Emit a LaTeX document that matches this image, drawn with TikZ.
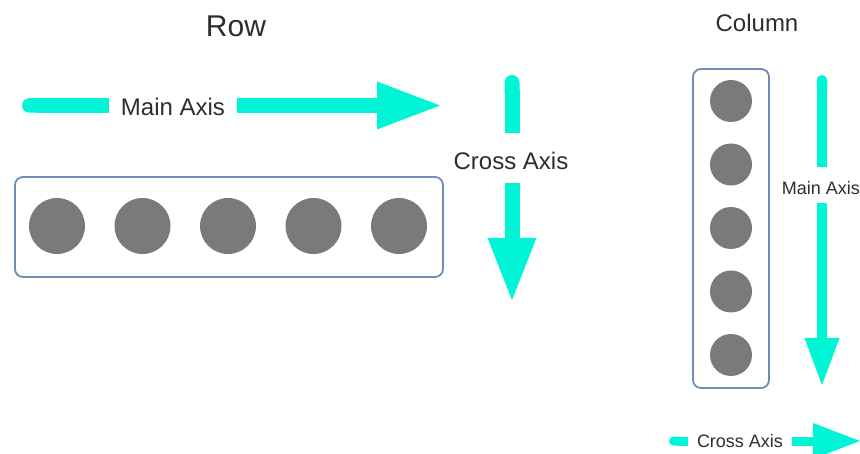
\documentclass[tikz,border=0pt]{standalone}
\usepackage{fontspec}
\setmainfont{Liberation Sans}
\usetikzlibrary{arrows.meta}
\definecolor{axiscol}{HTML}{00F5D6}
\definecolor{dotcol}{HTML}{7A7A7A}
\definecolor{boxcol}{HTML}{6F8DB6}
\definecolor{txtcol}{HTML}{2E2E2E}
\begin{document}
\begin{tikzpicture}[x=1pt,y=-1pt,
  container/.style={draw=boxcol, line width=1.8pt, rounded corners=8pt, inner sep=0pt},
  bigdot/.style={circle, fill=dotcol, minimum size=56pt, inner sep=0pt},
  smalldot/.style={circle, fill=dotcol, minimum size=42pt, inner sep=0pt},
  axisline/.style={draw=axiscol, line width=#1},
  bigtitle/.style={text=txtcol, font=\fontsize{30}{36}\selectfont, text height=21.5pt, text depth=0pt, inner sep=0pt},
  smalltitle/.style={text=txtcol, font=\fontsize{24}{29}\selectfont, text height=17.2pt, text depth=0pt, inner sep=0pt},
  biglabel/.style={text=txtcol, font=\fontsize{24}{29}\selectfont, text height=17.2pt, text depth=0pt, inner ysep=0pt},
  smalllabel/.style={text=txtcol, font=\fontsize{18}{22}\selectfont, text height=12.9pt, text depth=0pt, inner ysep=0pt},
  startcap/.style={{Round Cap[]}-},
]
\clip (0,0) rectangle (860,454);
\fill[white] (0,0) rectangle (860,454);

% titles
\node[bigtitle] (rowtitle) at (236,26) {Row};
\node[smalltitle] (coltitle) at (757,22.5) {Column};

% row container with its items
\node[container, minimum width=428pt, minimum height=100pt] (rowbox) at (229,227) {};
\foreach \i in {0,...,4}
  \node[bigdot] (r\i) at (57+85.5*\i,226) {};

% column container with its items
\node[container, minimum width=76pt, minimum height=319pt] (colbox) at (731,228.5) {};
\foreach \i in {0,...,4}
  \node[smalldot] (c\i) at (731,101+63.5*\i) {};

% row: main axis
\coordinate (rmStart) at (22,105.5);
\coordinate (rmEnd) at (440,105.5);
\node[biglabel, inner xsep=12pt] (rmLabel) at (173,107) {Main Axis};
\draw[axisline=14.5pt, startcap] (rmStart) -- (rmLabel.west |- rmStart);
\draw[axisline=14.5pt, -{Triangle[length=63pt,width=48pt,line width=0pt]}] (rmLabel.east |- rmEnd) -- (rmEnd);

% row: cross axis
\coordinate (rcStart) at (512,75);
\coordinate (rcEnd) at (512,300);
\node[biglabel, text height=22.2pt, inner ysep=13.9pt] (rcLabel) at (511,158) {Cross Axis};
\draw[axisline=15pt, startcap] (rcStart) -- (rcLabel.north -| rcStart);
\draw[axisline=15pt, -{Triangle[length=62pt,width=49pt,line width=0pt]}] (rcLabel.south -| rcEnd) -- (rcEnd);

% column: main axis
\coordinate (cmStart) at (822,75);
\coordinate (cmEnd) at (822,385);
\node[smalllabel, text height=18.9pt, inner ysep=8.5pt] (cmLabel) at (821,185) {Main Axis};
\draw[axisline=10.5pt, startcap] (cmStart) -- (cmLabel.north -| cmStart);
\draw[axisline=10.5pt, -{Triangle[length=47pt,width=35pt,line width=0pt]}] (cmLabel.south -| cmEnd) -- (cmEnd);

% column: cross axis
\coordinate (ccStart) at (669,441);
\coordinate (ccEnd) at (860,441);
\node[smalllabel, inner xsep=9pt] (ccLabel) at (740,441) {Cross Axis};
\draw[axisline=9pt, startcap] (ccStart) -- (ccLabel.west |- ccStart);
\draw[axisline=9pt, -{Triangle[length=47pt,width=36pt,line width=0pt]}] (ccLabel.east |- ccEnd) -- (ccEnd);
\end{tikzpicture}
\end{document}
